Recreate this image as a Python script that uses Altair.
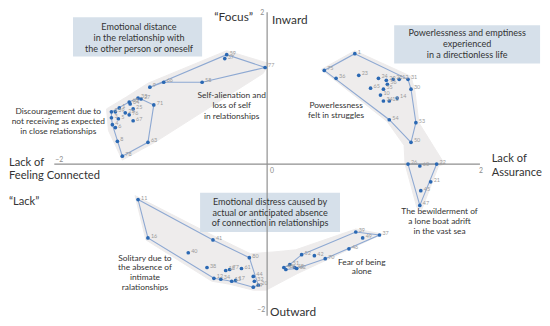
import altair as alt
import pandas as pd

XD = [-2.435, 2.509]
YD = [-2.0, 2.026]
FONT = "Lato"

# ---------------- points (data units) ----------------
A_lab = ["68", "33", "27", "71", "64", "1", "25", "2", "39", "21", "76", "5", "67", "3", "4", "6", "8", "63", "78"]
A_x = [-1.296, -1.213, -1.185, -1.065, -1.287, -1.389, -1.259, -1.463, -1.426, -1.333, -1.296, -1.398, -1.259, -1.463, -1.454, -1.426, -1.407, -1.120, -1.361]
A_y = [0.818, 0.870, 0.857, 0.779, 0.792, 0.740, 0.727, 0.688, 0.688, 0.675, 0.649, 0.597, 0.571, 0.610, 0.519, 0.481, 0.299, 0.286, 0.104]
A_hull = ["2", "68", "33", "27", "71", "63", "78", "4", "3"]

B_lab = ["59", "37", "77", "58", "66", "9"]
B_x = [-0.380, -0.398, -0.019, -0.611, -0.972, -1.102]
B_y = [1.442, 1.390, 1.273, 1.078, 1.078, 1.013]
B_hull = ["9", "59", "77", "58", "66"]

C_lab = ["1", "75", "36", "23", "24", "29", "28", "12", "31", "30", "65", "55", "56", "10", "14", "34", "13", "54", "53", "50"]
C_x = [0.824, 0.537, 0.648, 0.861, 1.046, 1.120, 1.185, 1.241, 1.324, 1.352, 0.972, 1.093, 1.130, 1.065, 1.222, 1.093, 1.148, 1.148, 1.398, 1.352]
C_y = [1.455, 1.234, 1.130, 1.169, 1.130, 1.104, 1.117, 1.117, 1.117, 0.987, 1.000, 0.987, 1.052, 0.909, 0.870, 0.831, 0.831, 0.584, 0.545, 0.286]
C_hull = ["1", "31", "30", "53", "50", "54", "75"]

D_lab = ["26", "60", "22", "21", "45", "47"]
D_x = [1.324, 1.435, 1.593, 1.537, 1.444, 1.435]
D_y = [0.0, -0.026, 0.0, -0.234, -0.351, -0.545]
D_hull = ["26", "22", "47"]

E_lab = ["11", "16", "41", "40", "80", "38", "18", "77", "61", "12", "34", "13", "17", "44", "32", "20", "19"]
E_x = [-1.213, -1.120, -0.509, -0.741, -0.167, -0.565, -0.389, -0.352, -0.241, -0.500, -0.435, -0.333, -0.296, -0.130, -0.120, -0.083, -0.130]
E_y = [-0.468, -0.974, -1.000, -1.169, -1.234, -1.364, -1.403, -1.390, -1.377, -1.506, -1.519, -1.545, -1.532, -1.481, -1.545, -1.597, -1.623]
E_hull = ["11", "41", "80", "20", "19", "13", "12", "16"]

F_lab = ["39", "37", "49", "46", "70", "52", "42", "51", "48", "43", "79", "62"]
F_x = [0.833, 1.056, 0.898, 0.769, 0.546, 0.324, 0.444, 0.213, 0.259, 0.157, 0.176, 0.278]
F_y = [-0.896, -0.935, -0.974, -1.117, -1.247, -1.195, -1.208, -1.325, -1.364, -1.364, -1.390, -1.377]
F_hull = ["39", "37", "70", "62", "79", "43", "51", "52"]

# ---------------- shaded bands ----------------
band1_x = [-1.509, -1.324, -1.120, -0.380, 0.019, -0.037, -1.056, -1.361, -1.491]
band1_y = [0.727, 0.883, 1.065, 1.494, 1.325, 1.195, 0.286, 0.052, 0.442]
band2_x = [0.509, 0.824, 1.352, 1.389, 1.426, 1.667, 1.611, 1.454, 1.407, 1.296, 1.287, 1.130]
band2_y = [1.247, 1.494, 1.156, 0.961, 0.545, 0.0, -0.026, -0.597, -0.571, 0.0, 0.247, 0.558]
band3_x = [-1.241, -0.500, -0.157, 0.083, 0.269, 0.833, 1.083, 0.287, 0.130, -0.009, -0.130, -0.352, -0.519, -1.139]
band3_y = [-0.416, -0.948, -1.182, -1.156, -1.130, -0.857, -0.922, -1.442, -1.558, -1.662, -1.662, -1.584, -1.545, -1.000]

# ---------------- boxes ----------------
box_x1 = [-1.824, 1.194, -0.630]
box_x2 = [-0.611, 2.565, 0.685]
box_y1 = [1.935, 1.831, -0.377]
box_y2 = [1.416, 1.325, -0.896]

box_text = ["Emotional distance", "in the relationship with", "the other person or oneself",
            "Powerlessness and emptiness", "experienced", "in a directionless life",
            "Emotional distress caused by", "actual or anticipated absence", "of connection in relationships"]
box_tx = [-1.204, -1.204, -1.204, 1.880, 1.880, 1.880, 0.028, 0.028, 0.028]
box_ty = [1.805, 1.662, 1.519, 1.727, 1.584, 1.442, -0.506, -0.649, -0.779]

lab_text = ["Discouragement due to", "not receiving as expected", "in close relationships",
            "Self-alienation and", "loss of self", "in relationships",
            "Powerlessness", "felt in struggles",
            "The bewilderment of", "a lone boat adrift", "in the vast sea",
            "Fear of being", "alone",
            "Solitary due to", "the absence of", "intimate", "ralationships"]
lab_x = [-1.963, -1.963, -1.963, -0.333, -0.333, -0.333, 0.648, 0.648,
         1.620, 1.620, 1.620, 0.889, 0.889, -1.148, -1.148, -1.148, -1.148]
lab_y = [0.701, 0.571, 0.429, 0.909, 0.779, 0.636, 0.779, 0.649,
         -0.623, -0.753, -0.883, -1.286, -1.416, -1.234, -1.364, -1.494, -1.623]

title_c_text = ["\u201cFocus\u201d"]
title_c_x = [-0.315]
title_c_y = [1.935]

title_l_text = ["Inward", "Outward"]
title_l_x = [0.046, 0.028]
title_l_y = [1.896, -1.948]

side_text = ["Lack of", "Feeling Connected", "\u201cLack\u201d", "Lack of", "Assurance"]
side_x = [-2.426, -2.426, -2.426, 2.110, 2.110]
side_y = [0.013, -0.156, -0.506, 0.065, -0.117]

tick_text = ["\u22122", "2", "0", "2", "\u22122"]
tick_x = [-1.954, -0.046, 0.046, 2.009, -0.056]
tick_y = [0.052, 1.995, -0.091, -0.091, -1.922]

axis_x1 = [-2.0, 0.0]
axis_x2 = [2.0, 0.0]
axis_y1 = [0.0, -2.0]
axis_y2 = [0.0, 2.0]

# ---------------- build tables ----------------
clusters = [(A_lab, A_x, A_y, A_hull), (B_lab, B_x, B_y, B_hull), (C_lab, C_x, C_y, C_hull),
            (D_lab, D_x, D_y, D_hull), (E_lab, E_x, E_y, E_hull), (F_lab, F_x, F_y, F_hull)]
pt_rows, hull_rows = [], []
for ci, (lab, xs, ys, hull) in enumerate(clusters):
    lookup = {}
    for l, x, y in zip(lab, xs, ys):
        pt_rows.append({"label": l, "x": x, "y": y})
        lookup[l] = (x, y)
    for i, l in enumerate(hull):
        hull_rows.append({"poly": ci, "i": i, "x": lookup[l][0], "y": lookup[l][1]})
pts = pd.DataFrame(pt_rows)
hulls = pd.DataFrame(hull_rows)

band_rows = []
for bi, (bx, by) in enumerate([(band1_x, band1_y), (band2_x, band2_y), (band3_x, band3_y)]):
    for i, (x, y) in enumerate(zip(bx, by)):
        band_rows.append({"poly": bi, "i": i, "x": x, "y": y})
bands = pd.DataFrame(band_rows)

boxes = pd.DataFrame({"x": box_x1, "x2": box_x2, "y": box_y1, "y2": box_y2})
boxtxt = pd.DataFrame({"t": box_text, "x": box_tx, "y": box_ty})
labtxt = pd.DataFrame({"t": lab_text, "x": lab_x, "y": lab_y})
tctxt = pd.DataFrame({"t": title_c_text, "x": title_c_x, "y": title_c_y})
tltxt = pd.DataFrame({"t": title_l_text, "x": title_l_x, "y": title_l_y})
sidetxt = pd.DataFrame({"t": side_text, "x": side_x, "y": side_y})
ticktxt = pd.DataFrame({"t": tick_text, "x": tick_x, "y": tick_y})
axes = pd.DataFrame({"x": axis_x1, "x2": axis_x2, "y": axis_y1, "y2": axis_y2})

X = alt.X("x:Q", scale=alt.Scale(domain=XD, nice=False, zero=False), axis=None)
Y = alt.Y("y:Q", scale=alt.Scale(domain=YD, nice=False, zero=False), axis=None)

FILL = "#EEECEC"

band_layer = alt.Chart(bands).mark_line(
    interpolate="linear-closed", fill=FILL, stroke=FILL, strokeWidth=1
).encode(x=X, y=Y, detail="poly:N", order="i:Q")

hull_layer = alt.Chart(hulls).mark_line(
    interpolate="linear-closed", fill=FILL, stroke="#8DA8D2", strokeWidth=1.1
).encode(x=X, y=Y, detail="poly:N", order="i:Q")

box_layer = alt.Chart(boxes).mark_rect(color="#D6E0EA").encode(
    x=X, x2="x2:Q", y=Y, y2="y2:Q")

axis_layer = alt.Chart(axes).mark_rule(color="#8F8F8F", strokeWidth=1.2).encode(
    x=X, x2="x2:Q", y=Y, y2="y2:Q")

pt_layer = alt.Chart(pts).mark_circle(size=14, color="#2A68B3", opacity=1).encode(x=X, y=Y)

ptlab_layer = alt.Chart(pts).mark_text(
    align="left", baseline="middle", dx=3, dy=-2, fontSize=5.5, color="#9A9A9A", font=FONT
).encode(x=X, y=Y, text="label:N")

box_text_layer = alt.Chart(boxtxt).mark_text(
    align="center", baseline="middle", fontSize=9.2, color="#333333", font=FONT
).encode(x=X, y=Y, text="t:N")

lab_layer = alt.Chart(labtxt).mark_text(
    align="center", baseline="middle", fontSize=8.5, color="#333333", font=FONT
).encode(x=X, y=Y, text="t:N")

tc_layer = alt.Chart(tctxt).mark_text(
    align="center", baseline="middle", fontSize=12, color="#333333", font=FONT
).encode(x=X, y=Y, text="t:N")

tl_layer = alt.Chart(tltxt).mark_text(
    align="left", baseline="middle", fontSize=12, color="#333333", font=FONT
).encode(x=X, y=Y, text="t:N")

side_layer = alt.Chart(sidetxt).mark_text(
    align="left", baseline="middle", fontSize=11.3, color="#333333", font=FONT
).encode(x=X, y=Y, text="t:N")

tick_layer = alt.Chart(ticktxt).mark_text(
    align="center", baseline="middle", fontSize=7, color="#8A8A8A", font=FONT
).encode(x=X, y=Y, text="t:N")

chart = alt.layer(
    band_layer, hull_layer, box_layer, axis_layer, pt_layer, ptlab_layer,
    box_text_layer, lab_layer, tc_layer, tl_layer, side_layer, tick_layer
).properties(
    width=534, height=310,
    autosize=alt.AutoSizeParams(type="none"),
    padding={"left": 0, "top": 0, "right": 8, "bottom": 8},
).configure_view(stroke=None)

chart.save("out.html", embed_options={"renderer": "svg", "actions": False})
